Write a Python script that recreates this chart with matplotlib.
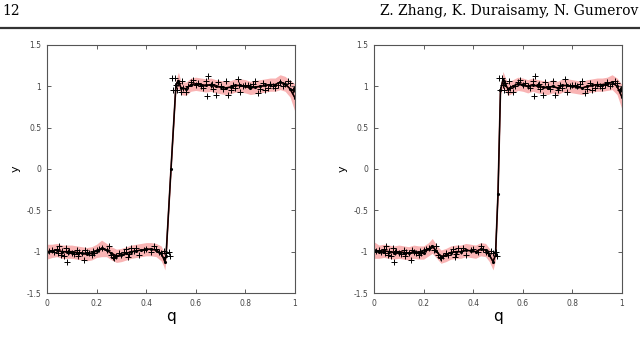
import numpy as np
import matplotlib.pyplot as plt

# noisy observations (same in both panels)
obs_q = [0.0, 0.01, 0.02, 0.03, 0.04, 0.045, 0.05, 0.055, 0.06, 0.07, 0.075, 0.08, 0.085,
         0.09, 0.1, 0.11, 0.12, 0.125, 0.13, 0.14, 0.15, 0.155, 0.16, 0.17, 0.18, 0.185,
         0.19, 0.2, 0.21, 0.22, 0.24, 0.25, 0.26, 0.265, 0.27, 0.28, 0.29, 0.3, 0.31, 0.32,
         0.325, 0.33, 0.34, 0.35, 0.36, 0.37, 0.39, 0.4, 0.42, 0.43, 0.44, 0.45, 0.46, 0.47,
         0.48, 0.49, 0.495,
         0.505, 0.51, 0.515, 0.52, 0.525, 0.53, 0.54, 0.545, 0.55, 0.56, 0.57, 0.58, 0.59,
         0.6, 0.61, 0.62, 0.63, 0.64, 0.645, 0.65, 0.66, 0.665, 0.67, 0.68, 0.69, 0.7, 0.71,
         0.72, 0.73, 0.74, 0.75, 0.76, 0.77, 0.775, 0.78, 0.79, 0.8, 0.81, 0.82, 0.83, 0.84,
         0.85, 0.86, 0.87, 0.88, 0.89, 0.9, 0.91, 0.92, 0.93, 0.94, 0.95, 0.96, 0.97, 0.98,
         0.99, 0.995]
obs_y = [-1.0, -0.99, -0.98, -1.0, -0.97, -1.02, -0.93, -1.04, -0.99, -1.05, -0.96, -1.12, -1.0,
         -0.99, -1.01, -1.03, -0.98, -1.05, -1.0, -1.02, -1.1, -0.98, -1.0, -1.02, -1.04, -0.99,
         -1.01, -0.98, -0.97, -0.96, -0.98, -0.93, -1.04, -1.06, -1.08, -1.05, -1.02, -1.04, -1.0, -0.97,
         -1.06, -1.03, -0.95, -0.99, -0.95, -1.04, -0.98, -0.97, -1.0, -0.93, -0.97, -1.0, -1.02, -0.99,
         -1.02, -1.0, -1.05,
         1.1, 0.96, 1.1, 1.02, 0.95, 1.04, 0.93, 1.06, 0.98, 0.93, 1.0, 1.05, 1.08,
         1.02, 1.04, 1.0, 0.98, 1.06, 0.88, 1.13, 1.01, 1.03, 0.97, 0.89, 1.05, 1.0, 0.97,
         1.07, 0.9, 0.95, 1.02, 0.98, 1.09, 1.02, 0.93, 1.0, 1.02, 1.01, 1.0, 1.03, 1.06,
         0.92, 0.97, 1.04, 0.95, 0.98, 1.03, 1.0, 0.98, 1.02, 1.05, 1.0, 1.03, 1.07, 1.04,
         0.95, 0.97]

# predictive mean / band half-width, left panel
q_left = [0.0, 0.02, 0.04, 0.06, 0.08, 0.1, 0.12, 0.14, 0.16, 0.18, 0.2, 0.22, 0.24, 0.26,
          0.28, 0.3, 0.32, 0.34, 0.36, 0.38, 0.4, 0.42, 0.44, 0.46, 0.47, 0.475, 0.48, 0.5,
          0.52, 0.53, 0.54, 0.56, 0.58, 0.6, 0.62, 0.64, 0.66, 0.68, 0.7, 0.72, 0.74, 0.76,
          0.78, 0.8, 0.82, 0.84, 0.86, 0.88, 0.9, 0.92, 0.94, 0.96, 0.98, 1.0]
mean_left = [-1.0, -0.99, -0.98, -1.0, -1.0, -1.0, -1.01, -1.02, -1.03, -1.02, -0.99, -0.96,
             -0.98, -1.02, -1.05, -1.04, -1.02, -1.0, -0.99, -0.98, -0.97, -0.97, -0.98,
             -1.02, -1.08, -1.12, -1.05, 0.0, 1.02, 1.07, 0.98, 0.97, 1.02, 1.03, 1.02, 1.01,
             1.02, 1.0, 0.99, 0.98, 0.99, 1.01, 1.01, 1.0, 0.98, 0.99, 1.0, 1.01, 1.02,
             1.02, 1.05, 1.03, 0.97, 0.86]
sd_left = [0.09, 0.08, 0.08, 0.08, 0.08, 0.08, 0.08, 0.08, 0.08, 0.08, 0.08, 0.1, 0.08, 0.08,
           0.08, 0.08, 0.08, 0.08, 0.08, 0.08, 0.08, 0.08, 0.08, 0.09, 0.09, 0.1, 0.06, 0.03,
           0.06, 0.1, 0.08, 0.08, 0.08, 0.08, 0.08, 0.08, 0.08, 0.08, 0.08, 0.08, 0.08, 0.08,
           0.08, 0.08, 0.08, 0.08, 0.08, 0.08, 0.08, 0.08, 0.09, 0.09, 0.1, 0.17]

# right panel
q_right = [0.0, 0.02, 0.04, 0.06, 0.08, 0.1, 0.12, 0.14, 0.16, 0.18, 0.2, 0.22, 0.235, 0.25,
           0.27, 0.29, 0.31, 0.33, 0.35, 0.37, 0.39, 0.41, 0.43, 0.45, 0.465, 0.48, 0.49, 0.5,
           0.51, 0.52, 0.53, 0.54, 0.56, 0.58, 0.6, 0.62, 0.64, 0.66, 0.68, 0.7, 0.72, 0.74,
           0.76, 0.78, 0.8, 0.82, 0.84, 0.86, 0.88, 0.9, 0.92, 0.94, 0.96, 0.98, 1.0]
mean_right = [-0.98, -1.0, -0.99, -1.0, -1.01, -1.0, -1.01, -1.02, -1.0, -1.01, -1.01, -0.97,
              -0.93, -0.99, -1.06, -1.04, -1.01, -1.0, -1.0, -0.98, -0.99, -1.0, -0.97, -0.98,
              -1.04, -1.12, -1.04, -0.3, 0.95, 1.08, 1.02, 0.97, 1.0, 1.03, 1.02, 1.0, 1.02,
              1.0, 0.99, 0.98, 1.0, 0.98, 1.01, 1.01, 1.0, 0.99, 0.98, 1.0, 1.01, 1.02, 1.02,
              1.03, 1.05, 1.0, 0.87]
sd_right = [0.1, 0.08, 0.08, 0.08, 0.08, 0.08, 0.08, 0.08, 0.08, 0.08, 0.08, 0.08, 0.09, 0.08,
            0.08, 0.08, 0.08, 0.08, 0.08, 0.08, 0.08, 0.08, 0.08, 0.08, 0.08, 0.1, 0.06, 0.04,
            0.04, 0.1, 0.08, 0.08, 0.08, 0.08, 0.08, 0.08, 0.08, 0.08, 0.08, 0.08, 0.08, 0.08,
            0.08, 0.08, 0.08, 0.08, 0.08, 0.08, 0.08, 0.08, 0.08, 0.08, 0.09, 0.1, 0.15]

fits = [(q_left, mean_left, sd_left), (q_right, mean_right, sd_right)]

fig = plt.figure(figsize=(6.4, 3.38), dpi=100)
fig.text(0.004, 0.968, "12", family="DejaVu Serif", fontsize=10, va="center")
fig.text(0.997, 0.968, "Z. Zhang, K. Duraisamy, N. Gumerov", family="DejaVu Serif",
         fontsize=10, va="center", ha="right")
fig.add_artist(plt.Line2D([0, 1], [0.917, 0.917], color="#333333", lw=1.6))

lefts = [47 / 640, 374 / 640]
for left, (q, m, s) in zip(lefts, fits):
    ax = fig.add_axes([left, 0.133, 248 / 640, 0.734])
    m = np.array(m)
    s = np.array(s)
    ax.fill_between(q, m - s, m + s, color="#f9b4b4", lw=0)
    ax.plot(q, m, color="#6b1010", lw=1.2)
    ax.plot(q, m, color="black", lw=0.9, marker=".", ms=2.5)
    ax.plot(obs_q, obs_y, "k+", ms=5, mew=0.7)
    ax.set_xlim(0, 1)
    ax.set_ylim(-1.5, 1.5)
    ax.set_xticks([0, 0.2, 0.4, 0.6, 0.8, 1])
    ax.set_xticklabels(["0", "0.2", "0.4", "0.6", "0.8", "1"])
    ax.set_yticks([-1.5, -1, -0.5, 0, 0.5, 1, 1.5])
    ax.set_yticklabels(["-1.5", "-1", "-0.5", "0", "0.5", "1", "1.5"])
    ax.tick_params(direction="in", length=3, width=0.6, labelsize=5.5, colors="#444444",
                   top=True, right=True, pad=4)
    for sp in ax.spines.values():
        sp.set_color("#555555")
        sp.set_linewidth(0.8)
    ax.set_xlabel("q", fontsize=11, labelpad=1)
    ax.set_ylabel("y", fontsize=8, labelpad=4)

fig.savefig("out.png", dpi=100)
